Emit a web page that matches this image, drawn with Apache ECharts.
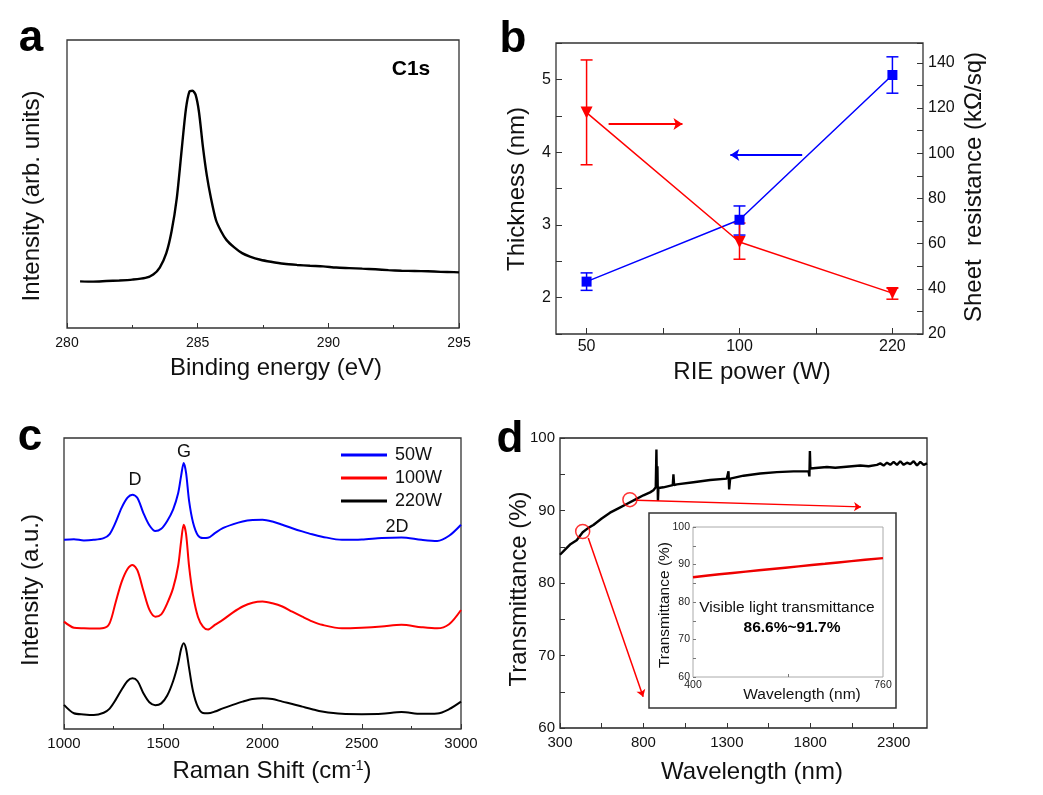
<!DOCTYPE html>
<html><head><meta charset="utf-8">
<script src="https://cdn.jsdelivr.net/npm/echarts@6/dist/echarts.min.js"></script>
<style>html,body{margin:0;padding:0;background:#fff}#chart{width:1043px;height:795px}</style>
</head><body><div id="chart"></div>
<script>
const FONT = "'Liberation Sans', Arial, sans-serif";

// ---- Panel a: XPS C1s ----
const xpsBindingEnergy = [280.5,281.0,281.5,282.0,282.5,283.0,283.3,283.55,283.8,284.0,284.2,284.4,284.55,284.68,284.8,284.92,285.05,285.2,285.35,285.5,285.7,285.9,286.1,286.4,286.7,287.0,287.4,287.8,288.3,288.8,289.3,289.8,290.3,290.8,291.3,291.8,292.3,292.8,293.3,293.8,294.3,294.8,295.0];
const xpsIntensity = [16.2,16.1,16.3,16.5,16.8,17.4,18.6,21.0,26.0,33.5,45.0,63.0,76.0,82.0,82.4,81.0,75.0,63.0,53.0,45.5,37.5,33.5,30.6,28.0,26.0,24.8,23.7,23.0,22.3,21.9,21.6,21.4,21.0,20.8,20.6,20.4,20.1,19.9,19.8,19.7,19.5,19.4,19.3];

// ---- Panel b: thickness & sheet resistance ----
const riePowerLabels = ['50', '100', '220'];
const thickness = [2.22, 3.07, 5.06];
const thicknessLow = [2.10, 2.86, 4.81];
const thicknessHigh = [2.34, 3.26, 5.31];
const sheetResistance = [118.0, 60.7, 38.1];
const sheetResLow = [94.9, 53.1, 35.4];
const sheetResHigh = [141.3, 69.1, 40.3];

// ---- Panel c: Raman ----
const ramanShift = [1000,1050,1100,1150,1200,1230,1260,1290,1320,1345,1370,1400,1430,1460,1490,1520,1550,1575,1590,1603,1615,1630,1650,1675,1700,1725,1760,1800,1850,1900,1950,2000,2050,2100,2150,2200,2250,2300,2400,2500,2600,2700,2800,2880,2940,3000];
const raman50W = [65.0,65.2,64.8,65.0,65.6,67.0,71.0,76.0,79.5,80.5,79.4,74.2,70.0,68.0,68.8,71.5,75.5,81.0,87.0,91.4,88.0,78.5,71.0,66.5,65.6,65.7,67.3,69.0,70.3,71.3,71.8,71.9,71.3,70.2,69.0,67.9,66.9,66.1,65.0,65.1,65.6,65.8,65.0,64.6,66.4,70.2];
const raman100W = [36.9,34.8,34.6,34.5,34.7,36.4,43.5,50.5,55.0,56.4,54.5,47.5,41.0,38.6,39.4,43.2,48.5,56.0,64.5,70.2,67.0,56.0,46.0,38.5,35.2,34.2,35.8,37.5,40.0,42.1,43.4,43.8,43.2,42.1,40.3,38.6,37.0,35.8,34.6,34.8,35.2,35.8,35.0,34.6,36.0,40.9];
const raman220W = [8.3,5.4,5.0,4.8,5.6,7.0,10.0,13.5,16.5,17.4,16.5,12.3,9.2,8.2,8.8,11.5,16.5,22.5,27.5,29.5,27.5,21.0,13.0,7.5,5.5,5.4,6.0,7.1,8.3,9.4,10.3,10.6,10.3,9.4,8.6,7.7,6.8,6.0,5.2,5.1,5.2,5.8,5.2,5.3,6.8,9.4];
const ramanNames = ['50W', '100W', '220W'];

// ---- Panel d: transmittance ----
const transWavelength = [300,330,360,400,436,470,500,550,600,650,700,750,800,840,860,874,878,881,884,887,890,920,976,980,984,1000,1100,1200,1300,1310,1314,1320,1400,1500,1600,1700,1790,1795,1798,1801,1850,1900,1950,2000,2050,2100,2150,2200,2220,2240,2260,2280,2300,2320,2340,2360,2380,2400,2420,2440,2460,2480,2500];
const transPercent = [83.9,84.6,85.3,85.9,87.0,87.6,88.0,88.9,89.7,90.3,90.9,91.5,92.1,92.5,92.8,93.2,98.4,93.3,96.1,91.3,93.1,93.2,93.5,95.0,93.5,93.6,93.9,94.2,94.4,95.4,92.9,94.4,94.8,95.1,95.3,95.4,95.4,94.7,98.2,95.8,95.9,96.0,95.9,96.0,96.1,96.2,96.1,96.3,96.5,96.2,96.6,96.3,96.7,96.3,96.8,96.3,96.6,96.4,96.8,96.2,96.7,96.3,96.5];
const zoomCircles = [[436, 87.1], [719, 91.5]];
// inset: visible range
const visWavelength = [400,450,500,550,600,650,700,760];
const visTransmittance = [86.6,87.4,88.1,88.8,89.5,90.2,90.9,91.7];

const zip = (a, b) => a.map((v, i) => [v, b[i]]);

const chart = echarts.init(document.getElementById('chart'));

const AX = '#333';
const TXT = '#111';
const plain = v => String(v);

function valueAxisX(grid, extra) {
  return Object.assign({
    type: 'value', gridIndex: grid,
    axisLine: { show: false, onZero: false },
    axisTick: { show: true, inside: true, length: 5, lineStyle: { color: AX, width: 1 } },
    minorTick: { show: true, splitNumber: 2, length: 3, lineStyle: { color: AX } },
    axisLabel: { fontFamily: FONT, fontSize: 15, color: TXT, margin: 7, formatter: plain },
    splitLine: { show: false }, minorSplitLine: { show: false }
  }, extra);
}
function blankY(grid) {
  return {
    type: 'value', gridIndex: grid, min: 0, max: 100,
    axisLine: { show: false, onZero: false }, axisTick: { show: false }, axisLabel: { show: false },
    splitLine: { show: false }
  };
}

function errorBar(color) {
  return function (params, api) {
    const x = api.value(0);
    const lo = api.coord([x, api.value(1)]);
    const hi = api.coord([x, api.value(2)]);
    const hw = 6;
    const style = { stroke: color, lineWidth: 1.5, fill: null };
    return {
      type: 'group', children: [
        { type: 'line', shape: { x1: lo[0], y1: lo[1], x2: hi[0], y2: hi[1] }, style },
        { type: 'line', shape: { x1: lo[0] - hw, y1: lo[1], x2: lo[0] + hw, y2: lo[1] }, style },
        { type: 'line', shape: { x1: hi[0] - hw, y1: hi[1], x2: hi[0] + hw, y2: hi[1] }, style }
      ]
    };
  };
}

function txt(text, x, y, size, opts) {
  opts = opts || {};
  return {
    type: 'text', x, y, rotation: opts.rot || 0, z: 100,
    style: Object.assign({
      text, fontFamily: FONT, fontSize: size, fontWeight: opts.bold ? 'bold' : 'normal',
      fill: opts.color || TXT, textAlign: 'center', textVerticalAlign: 'middle'
    }, opts.style || {})
  };
}

const R90 = Math.PI / 2;

const option = {
  animation: false,
  backgroundColor: '#fff',
  textStyle: { fontFamily: FONT },
  grid: [
    { left: 67, top: 40, width: 392, height: 288, show: true, borderColor: AX, borderWidth: 1.3, backgroundColor: 'transparent' },
    { left: 556, top: 43, width: 367, height: 291, show: true, borderColor: AX, borderWidth: 1.3, backgroundColor: 'transparent' },
    { left: 64, top: 438, width: 397, height: 291, show: true, borderColor: AX, borderWidth: 1.3, backgroundColor: 'transparent' },
    { left: 560, top: 438, width: 367, height: 290, show: true, borderColor: '#222', borderWidth: 1.3, backgroundColor: 'transparent' },
    { left: 693, top: 527, width: 190, height: 150, show: true, borderColor: '#aaa', borderWidth: 1, backgroundColor: 'transparent' }
  ],
  xAxis: [
    valueAxisX(0, { min: 280, max: 295, interval: 5, axisLabel: { fontFamily: FONT, fontSize: 14, color: TXT, margin: 8, formatter: plain } }),
    valueAxisX(1, {
      min: -0.2, max: 2.2,
      minorTick: { show: false },
      axisTick: { show: true, inside: true, length: 6, lineStyle: { color: AX }, customValues: [0, 0.5, 1, 1.5, 2] },
      axisLabel: { fontFamily: FONT, fontSize: 16, color: TXT, margin: 5, customValues: [0, 1, 2], formatter: v => riePowerLabels[Math.round(v)] }
    }),
    valueAxisX(2, { min: 1000, max: 3000, interval: 500 }),
    valueAxisX(3, {
      min: 300, max: 2500,
      minorTick: { show: false },
      axisTick: { show: true, inside: true, length: 5, lineStyle: { color: AX }, customValues: [300, 550, 800, 1050, 1300, 1550, 1800, 2050, 2300] },
      axisLabel: { fontFamily: FONT, fontSize: 15, color: TXT, margin: 7, customValues: [300, 800, 1300, 1800, 2300], formatter: plain }
    }),
    valueAxisX(4, {
      min: 400, max: 760,
      minorTick: { show: false },
      axisTick: { show: true, inside: true, length: 3, lineStyle: { color: '#777' }, customValues: [580] },
      axisLabel: { fontFamily: FONT, fontSize: 10.5, color: '#222', margin: 3, customValues: [400, 760], formatter: plain }
    })
  ],
  yAxis: [
    blankY(0),
    {
      type: 'value', gridIndex: 1, min: 1.5, max: 5.5, interval: 0.5,
      axisLine: { show: false, onZero: false },
      axisTick: { show: true, inside: true, length: 6, lineStyle: { color: AX } },
      axisLabel: { fontFamily: FONT, fontSize: 16, color: TXT, margin: 5, formatter: v => (Math.abs(v - Math.round(v)) < 1e-6 && v >= 2 && v <= 5) ? String(Math.round(v)) : '' },
      splitLine: { show: false }
    },
    {
      type: 'value', gridIndex: 1, position: 'right', min: 20, max: 148.8, interval: 10,
      axisLine: { show: false, onZero: false },
      axisTick: { show: true, inside: true, length: 6, lineStyle: { color: AX } },
      axisLabel: { fontFamily: FONT, fontSize: 16, color: TXT, margin: 5, formatter: v => (Math.round(v) % 20 === 0 && v <= 140 && Math.abs(v - Math.round(v)) < 1e-6) ? String(Math.round(v)) : '' },
      splitLine: { show: false }
    },
    blankY(2),
    {
      type: 'value', gridIndex: 3, min: 60, max: 100, interval: 5,
      axisLine: { show: false, onZero: false },
      axisTick: { show: true, inside: true, length: 5, lineStyle: { color: AX } },
      axisLabel: { fontFamily: FONT, fontSize: 15, color: TXT, margin: 5, formatter: v => (Math.round(v) % 10 === 0) ? String(Math.round(v)) : '' },
      splitLine: { show: false }
    },
    {
      type: 'value', gridIndex: 4, min: 60, max: 100, interval: 5,
      axisLine: { show: false, onZero: false },
      axisTick: { show: true, inside: true, length: 3, lineStyle: { color: '#777' } },
      axisLabel: { fontFamily: FONT, fontSize: 10.5, color: '#222', margin: 3, formatter: v => (Math.round(v) % 10 === 0) ? String(Math.round(v)) : '' },
      splitLine: { show: false }
    }
  ],
  legend: {
    data: ramanNames, orient: 'vertical', left: 336, top: 441,
    itemWidth: 46, itemHeight: 3, itemGap: 5, icon: 'rect',
    textStyle: { fontFamily: FONT, fontSize: 18, color: TXT, padding: [0, 0, 0, 3] },
    selectedMode: false
  },
  series: [
    // a
    {
      type: 'line', name: 'C1s', xAxisIndex: 0, yAxisIndex: 0, data: zip(xpsBindingEnergy, xpsIntensity),
      showSymbol: false, smooth: 0.25, lineStyle: { color: '#000', width: 2.4 }, itemStyle: { color: '#000' }
    },
    // b: thickness (left)
    {
      type: 'line', name: 'Thickness', xAxisIndex: 1, yAxisIndex: 1,
      data: thickness.map((v, i) => [i, v]),
      symbol: 'rect', symbolSize: 10, lineStyle: { color: '#0000ff', width: 1.5 }, itemStyle: { color: '#0000ff' }, z: 4,
      markLine: {
        silent: true, symbol: ['none', 'arrow'], symbolSize: 9, label: { show: false },
        lineStyle: { color: '#0000ff', width: 2, type: 'solid' },
        data: [[{ coord: [1.41, 3.96] }, { coord: [0.94, 3.96] }]]
      }
    },
    {
      type: 'custom', name: 'ThicknessErr', xAxisIndex: 1, yAxisIndex: 1,
      data: thickness.map((v, i) => [i, thicknessLow[i], thicknessHigh[i]]),
      encode: { x: 0, y: [1, 2] }, renderItem: errorBar('#0000ff'), z: 3
    },
    // b: sheet resistance (right)
    {
      type: 'line', name: 'Sheet resistance', xAxisIndex: 1, yAxisIndex: 2,
      data: sheetResistance.map((v, i) => [i, v]),
      symbol: 'triangle', symbolRotate: 180, symbolSize: 12, lineStyle: { color: '#ff0000', width: 1.5 }, itemStyle: { color: '#ff0000' }, z: 4,
      markLine: {
        silent: true, symbol: ['none', 'arrow'], symbolSize: 9, label: { show: false },
        lineStyle: { color: '#ff0000', width: 2, type: 'solid' },
        data: [[{ coord: [0.144, 113.0] }, { coord: [0.627, 113.0] }]]
      }
    },
    {
      type: 'custom', name: 'SheetErr', xAxisIndex: 1, yAxisIndex: 2,
      data: sheetResistance.map((v, i) => [i, sheetResLow[i], sheetResHigh[i]]),
      encode: { x: 0, y: [1, 2] }, renderItem: errorBar('#ff0000'), z: 3
    },
    // c
    {
      type: 'line', name: '50W', xAxisIndex: 2, yAxisIndex: 3, data: zip(ramanShift, raman50W),
      showSymbol: false, smooth: 0.3, lineStyle: { color: '#0000ff', width: 2 }, itemStyle: { color: '#0000ff' }
    },
    {
      type: 'line', name: '100W', xAxisIndex: 2, yAxisIndex: 3, data: zip(ramanShift, raman100W),
      showSymbol: false, smooth: 0.3, lineStyle: { color: '#ff0000', width: 2 }, itemStyle: { color: '#ff0000' }
    },
    {
      type: 'line', name: '220W', xAxisIndex: 2, yAxisIndex: 3, data: zip(ramanShift, raman220W),
      showSymbol: false, smooth: 0.3, lineStyle: { color: '#000', width: 2 }, itemStyle: { color: '#000' }
    },
    // d
    {
      type: 'line', name: 'Transmittance', xAxisIndex: 3, yAxisIndex: 4, data: zip(transWavelength, transPercent),
      showSymbol: false, lineStyle: { color: '#000', width: 2.4 }, itemStyle: { color: '#000' }
    },
    {
      type: 'scatter', name: 'zoom', xAxisIndex: 3, yAxisIndex: 4, data: zoomCircles,
      symbol: 'circle', symbolSize: 14, itemStyle: { color: 'rgba(0,0,0,0)', borderColor: '#ff0000', borderWidth: 1.5 }, z: 5,
      markLine: {
        silent: true, symbol: ['none', 'arrow'], symbolSize: 7, label: { show: false },
        lineStyle: { color: '#ff0000', width: 1.5, type: 'solid' },
        data: [
          [{ coord: [469.5, 86.2] }, { coord: [798.5, 64.3] }],
          [{ coord: [758.6, 91.4] }, { coord: [2104.6, 90.5] }]
        ]
      }
    },
    // inset
    {
      type: 'line', name: 'Visible', xAxisIndex: 4, yAxisIndex: 5, data: zip(visWavelength, visTransmittance),
      showSymbol: false, smooth: 0.3, lineStyle: { color: '#ee0000', width: 2.5 }, itemStyle: { color: '#ee0000' }
    }
  ],
  graphic: [
    { type: 'rect', shape: { x: 649, y: 513, width: 247, height: 195 }, style: { fill: 'none', stroke: '#333', lineWidth: 1.5 }, z: 1 },
    txt('a', 31, 39, 44, { bold: true, color: '#000' }),
    txt('b', 513, 40, 44, { bold: true, color: '#000' }),
    txt('c', 30, 438, 44, { bold: true, color: '#000' }),
    txt('d', 510, 440, 44, { bold: true, color: '#000' }),
    txt('C1s', 411, 69, 21, { bold: true, color: '#000' }),
    txt('Binding energy (eV)', 276, 368, 24),
    txt('Intensity (arb. units)', 32, 196, 24, { rot: R90 }),
    txt('RIE power (W)', 752, 372, 24),
    txt('Thickness (nm)', 517, 189, 24, { rot: R90 }),
    txt('Sheet  resistance (k\u03A9/sq)', 974, 187, 24, { rot: R90 }),
    {
      type: 'text', x: 272, y: 771, z: 100,
      style: {
        text: '{n|Raman Shift (cm}{s|-1}{n|)}', textAlign: 'center', textVerticalAlign: 'middle', fill: TXT,
        rich: {
          n: { fontFamily: FONT, fontSize: 24, fill: TXT },
          s: { fontFamily: FONT, fontSize: 14, fill: TXT, verticalAlign: 'top' }
        }
      }
    },
    txt('Intensity (a.u.)', 31, 590, 24, { rot: R90 }),
    txt('D', 135, 480, 18),
    txt('G', 184, 452, 18),
    txt('2D', 397, 527, 18),
    txt('Wavelength (nm)', 752, 772, 24),
    txt('Transmittance (%)', 519, 589, 24, { rot: R90 }),
    txt('Wavelength (nm)', 802, 695, 15.5),
    txt('Transmittance (%)', 665, 605, 15.5, { rot: R90 }),
    txt('Visible light transmittance', 787, 608, 15.5),
    txt('86.6%~91.7%', 792, 628, 15.5, { bold: true, color: '#000' })
  ]
};

chart.setOption(option);
</script>
</body></html>
